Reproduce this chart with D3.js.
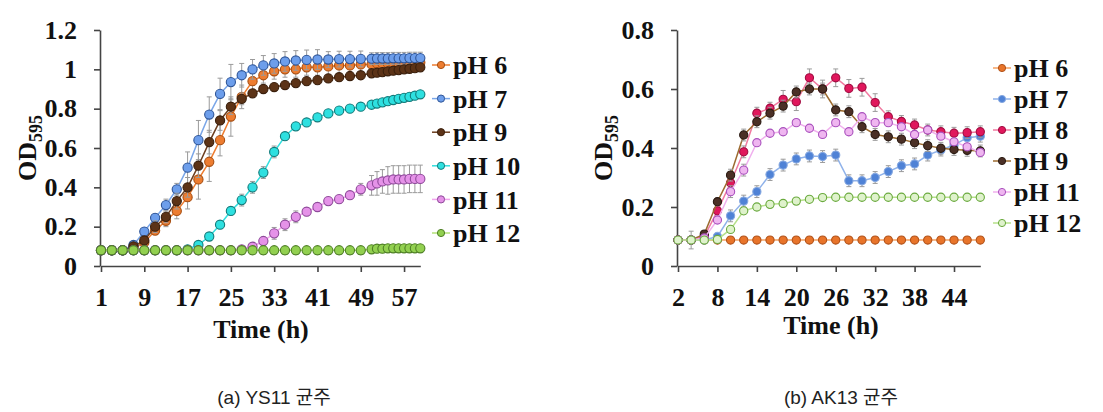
<!DOCTYPE html>
<html><head><meta charset="utf-8">
<script src="https://cdn.jsdelivr.net/npm/d3@7"></script>
<style>
html,body{margin:0;padding:0;background:#fff;}
svg{display:block;}
</style></head>
<body>
<script>
// ---------- Data: (a) YS11 ----------
const timeA = [1,3,5,7,9,11,13,15,17,19,21,23,25,27,29,31,33,35,37,39,41,43,45,47,49,51,52,53,54,55,56,57,58,59,60];
const a_pH6  = [0.08,0.08,0.08,0.09,0.12,0.18,0.23,0.28,0.35,0.44,0.53,0.64,0.76,0.86,0.94,0.97,0.99,1.0,1.0,1.01,1.01,1.015,1.02,1.02,1.025,1.025,1.03,1.03,1.03,1.03,1.03,1.035,1.035,1.035,1.035];
const a_pH7  = [0.08,0.08,0.08,0.107,0.175,0.245,0.31,0.39,0.5,0.64,0.77,0.875,0.935,0.97,1.0,1.02,1.03,1.04,1.045,1.048,1.05,1.05,1.052,1.052,1.053,1.054,1.055,1.055,1.055,1.056,1.056,1.056,1.057,1.057,1.057];
const a_pH9  = [0.08,0.08,0.08,0.1,0.13,0.2,0.25,0.33,0.4,0.51,0.63,0.74,0.81,0.85,0.878,0.9,0.91,0.92,0.93,0.94,0.945,0.954,0.96,0.966,0.97,0.98,0.983,0.986,0.99,0.993,0.996,1.0,1.003,1.006,1.01];
const a_pH10 = [0.08,0.08,0.08,0.08,0.08,0.08,0.08,0.08,0.085,0.107,0.15,0.21,0.28,0.335,0.4,0.475,0.58,0.66,0.71,0.73,0.756,0.776,0.79,0.8,0.81,0.82,0.826,0.832,0.838,0.844,0.85,0.855,0.86,0.866,0.873];
const a_pH11 = [0.08,0.08,0.08,0.08,0.08,0.08,0.08,0.08,0.08,0.08,0.08,0.08,0.08,0.085,0.098,0.127,0.166,0.21,0.25,0.276,0.3,0.33,0.34,0.36,0.39,0.41,0.42,0.43,0.435,0.44,0.44,0.44,0.443,0.443,0.443];
const a_pH12 = [0.08,0.08,0.08,0.08,0.08,0.08,0.08,0.08,0.08,0.08,0.08,0.08,0.08,0.08,0.08,0.08,0.08,0.08,0.08,0.08,0.08,0.08,0.08,0.08,0.08,0.085,0.088,0.088,0.09,0.09,0.09,0.09,0.09,0.09,0.09];
// error bars (±)
const a_err6  = [0,0,0,0.01,0.02,0.02,0.03,0.04,0.06,0.1,0.1,0.08,0.1,0.06,0.05,0.04,0.04,0.04,0.04,0.04,0.04,0.04,0.04,0.04,0.04,0.04,0.04,0.04,0.04,0.04,0.04,0.04,0.04,0.04,0.04];
const a_err7  = [0,0,0,0.01,0.02,0.02,0.03,0.03,0.08,0.1,0.09,0.08,0.09,0.06,0.05,0.05,0.05,0.05,0.05,0.05,0.05,0.04,0.04,0.04,0.04,0.03,0.03,0.03,0.03,0.03,0.03,0.03,0.03,0.03,0.03];
const a_err9  = [0,0,0,0.01,0.02,0.03,0.03,0.04,0.05,0.06,0.06,0.05,0.04,0.03,0.02,0.02,0.02,0.02,0.02,0.02,0.02,0.02,0.02,0.02,0.02,0.02,0.02,0.02,0.02,0.02,0.02,0.02,0.02,0.02,0.02];
const a_err10 = [0,0,0,0,0,0,0,0,0,0.01,0.02,0.02,0.02,0.03,0.03,0.03,0.03,0.02,0.02,0.01,0.01,0.01,0.01,0.01,0.01,0.01,0.01,0.01,0.01,0.01,0.01,0.01,0.01,0.01,0.01];
const a_err11 = [0,0,0,0,0,0,0,0,0,0,0,0,0,0.01,0.02,0.02,0.03,0.03,0.03,0.02,0.02,0.02,0.02,0.02,0.03,0.05,0.06,0.06,0.07,0.07,0.07,0.07,0.07,0.07,0.07];
const a_err12 = [0,0,0,0,0,0,0,0,0,0,0,0,0,0,0,0,0,0,0,0,0,0,0,0,0,0,0,0,0,0,0,0,0,0,0];
const a_names = ["pH 6","pH 7","pH 9","pH 10","pH 11","pH 12"];
const xTicksA = [1,9,17,25,33,41,49,57];
const yTicksA = [0,0.2,0.4,0.6,0.8,1,1.2];

// ---------- Data: (b) AK13 ----------
const timeB = [2,4,6,8,10,12,14,16,18,20,22,24,26,28,30,32,34,36,38,40,42,44,46,48];
const b_pH6  = [0.088,0.088,0.088,0.088,0.088,0.088,0.088,0.088,0.088,0.088,0.088,0.088,0.088,0.088,0.088,0.088,0.088,0.088,0.088,0.088,0.088,0.088,0.088,0.088];
const b_pH7  = [0.088,0.088,0.088,0.10,0.17,0.22,0.252,0.31,0.342,0.363,0.373,0.371,0.376,0.289,0.289,0.30,0.32,0.34,0.346,0.376,0.393,0.41,0.435,0.44];
const b_pH8  = [0.088,0.088,0.10,0.187,0.282,0.387,0.518,0.535,0.565,0.557,0.638,0.60,0.638,0.602,0.606,0.554,0.506,0.49,0.478,0.461,0.455,0.45,0.452,0.455];
const b_pH9  = [0.088,0.088,0.108,0.218,0.308,0.444,0.489,0.518,0.542,0.59,0.60,0.60,0.529,0.523,0.472,0.446,0.438,0.43,0.418,0.408,0.399,0.395,0.392,0.39];
const b_pH11 = [0.088,0.088,0.095,0.156,0.252,0.325,0.418,0.45,0.455,0.486,0.467,0.446,0.486,0.455,0.506,0.486,0.486,0.472,0.446,0.461,0.44,0.421,0.404,0.385];
const b_pH12 = [0.088,0.088,0.088,0.09,0.124,0.187,0.20,0.209,0.212,0.22,0.226,0.232,0.233,0.233,0.233,0.233,0.233,0.233,0.233,0.233,0.233,0.233,0.233,0.233];
const b_err6  = [0,0,0,0,0,0,0,0,0,0,0,0,0,0,0,0,0,0,0,0,0,0,0,0];
const b_err7  = [0,0,0.01,0.01,0.02,0.02,0.02,0.02,0.02,0.02,0.02,0.02,0.02,0.02,0.02,0.02,0.02,0.02,0.02,0.02,0.02,0.02,0.02,0.02];
const b_err8  = [0,0,0.01,0.01,0.02,0.02,0.02,0.02,0.03,0.03,0.03,0.03,0.03,0.03,0.03,0.03,0.02,0.02,0.02,0.02,0.02,0.02,0.02,0.02];
const b_err9  = [0,0,0.01,0.01,0.02,0.02,0.02,0.02,0.02,0.02,0.02,0.02,0.02,0.02,0.02,0.02,0.02,0.02,0.02,0.02,0.02,0.02,0.02,0.02];
const b_err11 = [0,0,0.01,0.01,0.02,0.02,0.01,0.01,0.01,0.01,0.01,0.01,0.01,0.01,0.01,0.01,0.01,0.01,0.01,0.01,0.01,0.01,0.01,0.01];
const b_err12 = [0,0.03,0.01,0.01,0.01,0.01,0.01,0.01,0.01,0.01,0.01,0.01,0.01,0.01,0.01,0.01,0.01,0.01,0.01,0.01,0.01,0.01,0.01,0.01];
const b_names = ["pH 6","pH 7","pH 8","pH 9","pH 11","pH 12"];
const xTicksB = [2,8,14,20,26,32,38,44];
const yTicksB = [0,0.2,0.4,0.6,0.8];

const captions = ["(a) YS11 균주","(b) AK13 균주"];

// ---------- styles ----------
const styleA = [
  {line:"#ED7D31", fill:"#ED7D31", stroke:"#a84f12"},
  {line:"#7aa6e8", fill:"#6d9eeb", stroke:"#2f5597"},
  {line:"#6b3d1e", fill:"#5c3317", stroke:"#3a1f0c"},
  {line:"#33dede", fill:"#2ee0e0", stroke:"#137a7a"},
  {line:"#f2a4ee", fill:"#e592e8", stroke:"#8e4a9a"},
  {line:"#b3e07a", fill:"#92d050", stroke:"#4e7f25"}
];
const styleB = [
  {line:"#f4a060", fill:"#e8742a", stroke:"#b0521a"},
  {line:"#8fb2ea", fill:"#4f82d6", stroke:"#86a8e0"},
  {line:"#f07aa0", fill:"#e0175c", stroke:"#a00c40"},
  {line:"#9c6b30", fill:"#4b3026", stroke:"#2a1a12"},
  {line:"#f0b0ee", fill:"#efb6f0", stroke:"#a950bd"},
  {line:"#b6e08a", fill:"#dff2cc", stroke:"#6aaa3e"}
];

const W = 1103, H = 412;
const svg = d3.select("body").append("svg").attr("width", W).attr("height", H);
const serif = "'Liberation Serif','Times New Roman',serif";
const fmt = d3.format("~g");

function drawChart(cfg) {
  const g = svg.append("g");
  const x = d3.scaleLinear().domain(cfg.xDomain).range(cfg.xRange);
  const y = d3.scaleLinear().domain(cfg.yDomain).range([266, 30]);

  // axes
  const ax = g.append("g").attr("transform", `translate(0,266)`)
    .call(d3.axisBottom(x).tickValues(cfg.xTicks).tickSize(6).tickPadding(16).tickSizeOuter(0).tickFormat(fmt));
  const ay = g.append("g").attr("transform", `translate(${cfg.xRange[0] - 1},0)`)
    .call(d3.axisLeft(y).tickValues(cfg.yTicks).tickSize(6).tickPadding(17).tickSizeOuter(0).tickFormat(fmt));
  [ax, ay].forEach(a => {
    a.selectAll("path,line").attr("stroke", "#444").attr("stroke-width", 1.6);
    a.selectAll("text").attr("font-family", serif).attr("font-weight", "bold")
      .attr("font-size", 26).attr("fill", "#111");
  });

  // series
  cfg.series.forEach((s, i) => {
    const st = cfg.styles[i];
    const pts = s.vals.map((v, j) => ({t: cfg.times[j], v, e: s.err[j]}));
    const sg = g.append("g");
    sg.append("path").datum(pts)
      .attr("fill", "none").attr("stroke", st.line).attr("stroke-width", 1.5)
      .attr("d", d3.line().x(d => x(d.t)).y(d => y(d.v)));
    const eb = sg.append("g").attr("stroke", "#9a9a9a").attr("stroke-width", 1);
    pts.filter(d => d.e > 0).forEach(d => {
      const cx = x(d.t), y1 = y(d.v - d.e), y2 = y(d.v + d.e);
      eb.append("line").attr("x1", cx).attr("x2", cx).attr("y1", y1).attr("y2", y2);
      eb.append("line").attr("x1", cx - 2.5).attr("x2", cx + 2.5).attr("y1", y1).attr("y2", y1);
      eb.append("line").attr("x1", cx - 2.5).attr("x2", cx + 2.5).attr("y1", y2).attr("y2", y2);
    });
    sg.selectAll("circle").data(pts).enter().append("circle")
      .attr("cx", d => x(d.t)).attr("cy", d => y(d.v)).attr("r", cfg.r)
      .attr("fill", st.fill).attr("stroke", st.stroke).attr("stroke-width", 1.1);
  });

  // y title
  const yt = g.append("text")
    .attr("transform", `translate(${cfg.yTitleX},148) rotate(-90)`)
    .attr("text-anchor", "middle").attr("font-family", serif).attr("font-weight", "bold")
    .attr("font-size", 26).attr("fill", "#111");
  yt.append("tspan").text("OD");
  yt.append("tspan").attr("font-size", 18).attr("dy", 6).text("595");

  // x title
  g.append("text").attr("x", cfg.xTitleX).attr("y", cfg.xTitleY)
    .attr("text-anchor", "middle").attr("font-family", serif).attr("font-weight", "bold")
    .attr("font-size", 26).attr("fill", "#111").text("Time (h)");

  // legend
  cfg.names.forEach((n, i) => {
    const st = cfg.styles[i];
    const ly = cfg.leg.y0 + i * cfg.leg.dy;
    const lg = g.append("g");
    lg.append("line").attr("x1", cfg.leg.x0).attr("x2", cfg.leg.x0 + 18).attr("y1", ly).attr("y2", ly)
      .attr("stroke", st.line).attr("stroke-width", 1.5);
    lg.append("circle").attr("cx", cfg.leg.x0 + 9).attr("cy", ly).attr("r", 3.6)
      .attr("fill", st.fill).attr("stroke", st.stroke).attr("stroke-width", 1);
    lg.append("text").attr("x", cfg.leg.x0 + 21).attr("y", ly).attr("dy", "0.35em")
      .attr("font-family", serif).attr("font-weight", "bold").attr("font-size", 26)
      .attr("fill", "#111").text(n);
  });

  // caption
  g.append("text").attr("x", cfg.capX).attr("y", 404).attr("text-anchor", "middle")
    .attr("font-family", "'Liberation Sans',Arial,'Noto Sans CJK KR',sans-serif")
    .attr("font-size", 19).attr("fill", "#222").text(cfg.caption);
}

drawChart({
  times: timeA, xDomain: [1, 60], xRange: [101, 420.3], yDomain: [0, 1.2],
  xTicks: xTicksA, yTicks: yTicksA, r: 4.6,
  series: [
    {vals: a_pH6, err: a_err6}, {vals: a_pH7, err: a_err7}, {vals: a_pH9, err: a_err9},
    {vals: a_pH10, err: a_err10}, {vals: a_pH11, err: a_err11}, {vals: a_pH12, err: a_err12}
  ],
  styles: styleA, names: a_names,
  yTitleX: 36, xTitleX: 261, xTitleY: 338,
  leg: {x0: 432, y0: 65, dy: 33.6},
  capX: 274, caption: captions[0]
});

drawChart({
  times: timeB, xDomain: [2, 48], xRange: [678, 980.3], yDomain: [0, 0.8],
  xTicks: xTicksB, yTicks: yTicksB, r: 4.1,
  series: [
    {vals: b_pH6, err: b_err6}, {vals: b_pH7, err: b_err7}, {vals: b_pH8, err: b_err8},
    {vals: b_pH9, err: b_err9}, {vals: b_pH11, err: b_err11}, {vals: b_pH12, err: b_err12}
  ],
  styles: styleB, names: b_names,
  yTitleX: 612, xTitleX: 831, xTitleY: 334,
  leg: {x0: 993, y0: 68, dy: 31},
  capX: 841, caption: captions[1]
});
</script>
</body></html>
